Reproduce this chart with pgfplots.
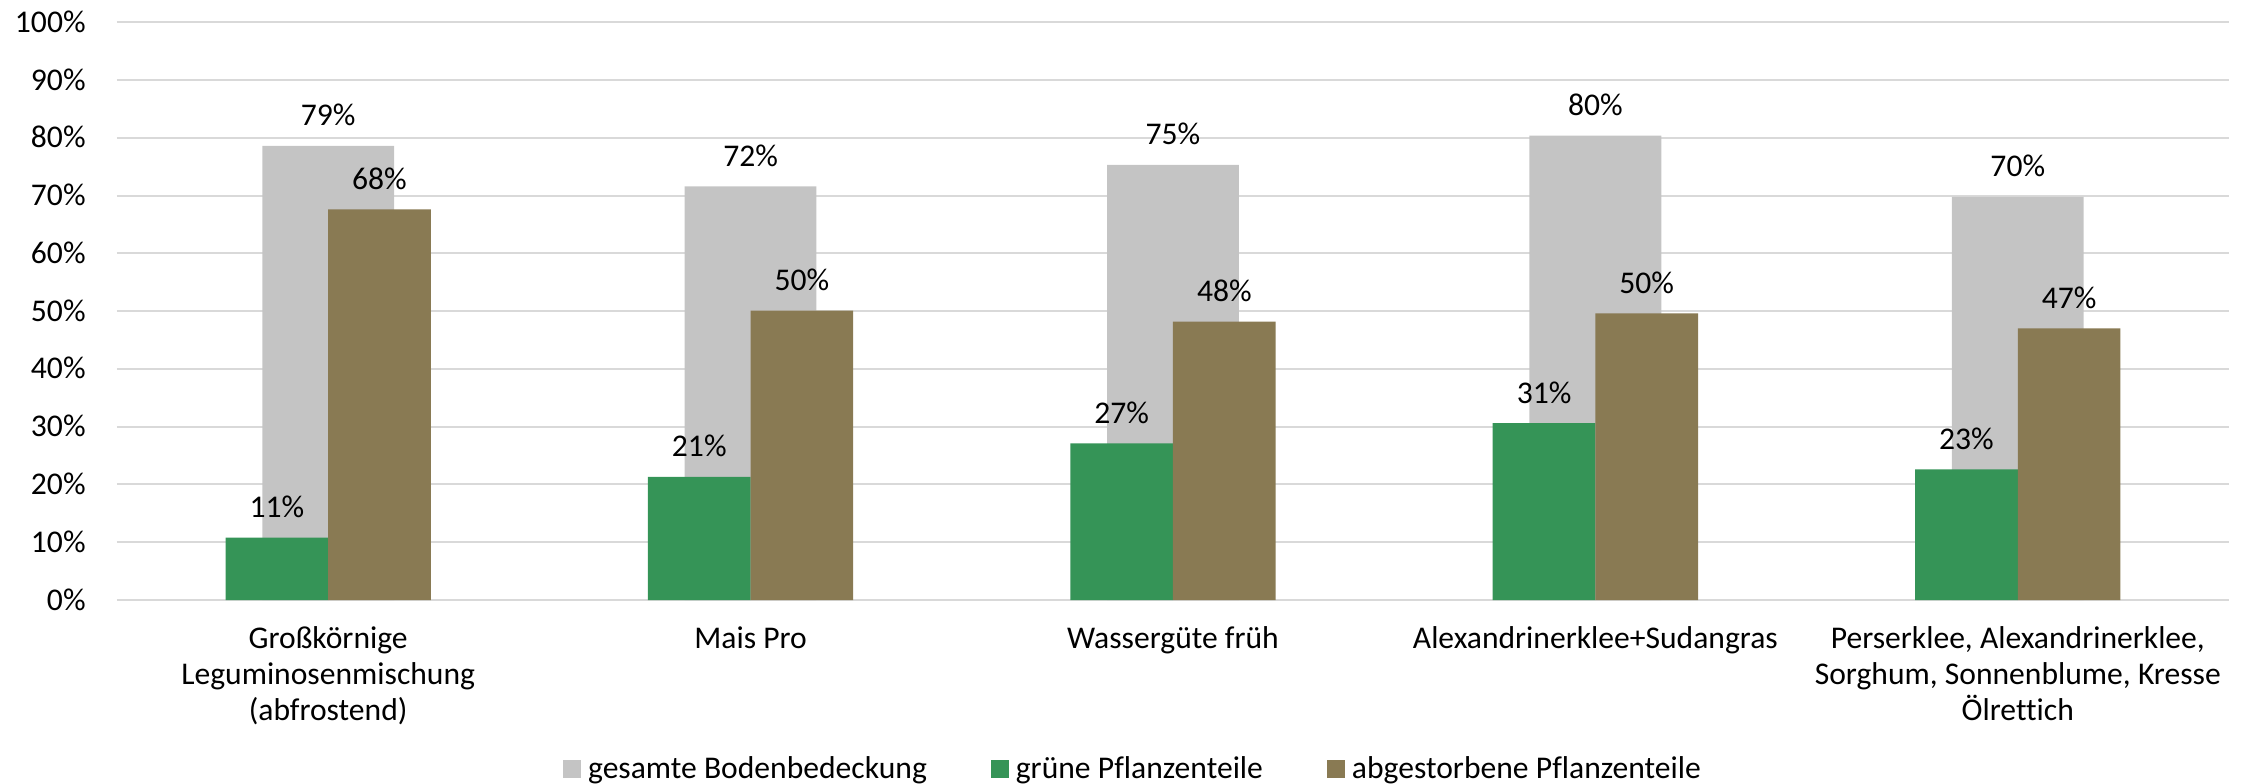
\documentclass[border=0pt]{standalone}
\usepackage{fontspec}
\setmainfont{Carlito}[Ligatures=NoCommon]
\usepackage{pgfplots}
\pgfplotsset{compat=1.18}
\definecolor{cgray}{HTML}{C4C4C4}
\definecolor{cgreen}{HTML}{359457}
\definecolor{cbrown}{HTML}{897A53}
\definecolor{cgrid}{HTML}{D9D9D9}
\newcommand{\lf}{\fontsize{15.8}{18}\selectfont}
\begin{document}
\begin{tikzpicture}
\path[use as bounding box] (-58.5pt,-91.5pt) rectangle (1063.5pt,300pt);
\begin{axis}[
 at={(0pt,0pt)}, anchor=south west,
 width=1056pt, height=288.85pt, scale only axis,
 xmin=-0.5, xmax=4.5, ymin=0, ymax=100,
 axis line style={draw=none},
 major tick length=0pt,
 ytick={0,10,...,100},
 yticklabels={0\%,10\%,20\%,30\%,40\%,50\%,60\%,70\%,80\%,90\%,100\%},
 ymajorgrids, grid style={cgrid, line width=1pt},
 xtick={0,1,2,3,4},
 xticklabels={{Großkörnige\\Leguminosenmischung\\(abfrostend)},{Mais Pro},{Wassergüte früh},{Alexandrinerklee+Sudangras},{Perserklee, Alexandrinerklee,\\Sorghum, Sonnenblume, Kresse\\Ölrettich}},
 yticklabel style={anchor=base east, inner sep=0pt, xshift=-15.5pt, yshift=-5pt, font=\lf},
 xticklabel style={align=center, anchor=north, inner sep=0pt, yshift=-13pt, font=\lf},
 ybar,
 nodes near coords={\pgfmathprintnumber[fixed,precision=0,assume math mode=true]{\pgfplotspointmeta}\%},
 nodes near coords style={anchor=base, inner sep=0pt, yshift=10pt, font=\lf, text=black},
 legend columns=3,
 legend style={at={(0.4806,-0.2925)}, anchor=center, draw=none, fill=none, font=\lf, inner sep=0pt, nodes={inner sep=0pt},
   /tikz/every odd column/.append style={column sep=3.5pt},
   /tikz/every even column/.append style={column sep=32pt}},
]
\addplot[fill=cgray, draw=none, bar width=0.312, bar shift=0,
  legend image code/.code={\fill[cgray] (0pt,-4.5pt) rectangle (9pt,4.5pt);}]
  coordinates {(0,78.6)(1,71.6)(2,75.3)(3,80.4)(4,69.8)};
\addlegendentry{gesamte Bodenbedeckung}
\addplot[fill=cgreen, draw=none, bar width=0.243, bar shift=-0.1215,
  legend image code/.code={\fill[cgreen] (0pt,-4.5pt) rectangle (9pt,4.5pt);}]
  coordinates {(0,10.8)(1,21.3)(2,27.1)(3,30.6)(4,22.6)};
\addlegendentry{grüne Pflanzenteile}
\addplot[fill=cbrown, draw=none, bar width=0.243, bar shift=0.1215,
  legend image code/.code={\fill[cbrown] (0pt,-4.5pt) rectangle (9pt,4.5pt);}]
  coordinates {(0,67.6)(1,50.1)(2,48.2)(3,49.6)(4,47.0)};
\addlegendentry{abgestorbene Pflanzenteile}
\end{axis}
\end{tikzpicture}
\end{document}
